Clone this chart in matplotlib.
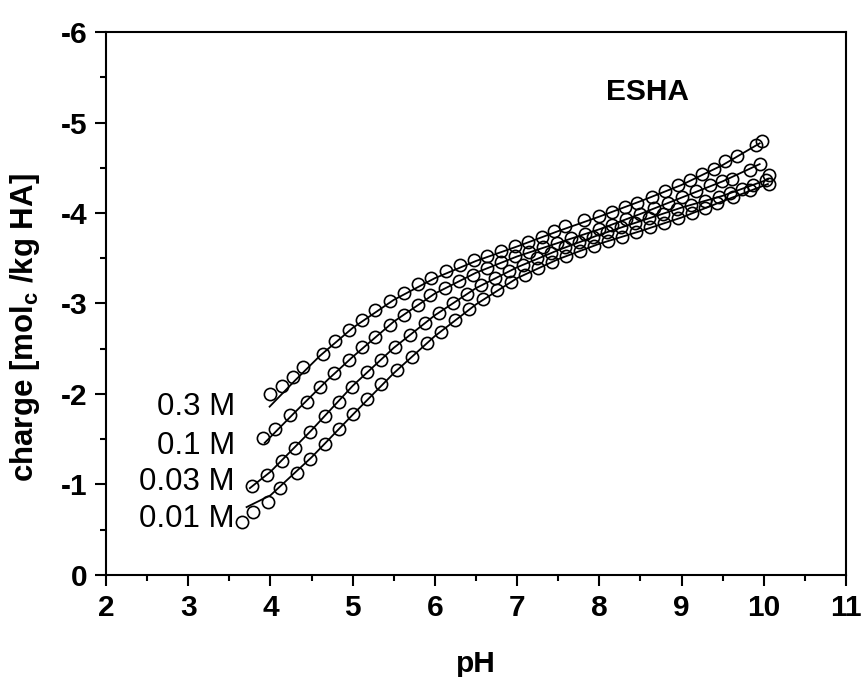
import matplotlib
matplotlib.use("Agg")
import matplotlib.pyplot as plt
import numpy as np

plt.rcParams['font.family'] = ['Liberation Sans', 'DejaVu Sans']
plt.rcParams['axes.unicode_minus'] = False
plt.rcParams['mathtext.fontset'] = 'custom'
plt.rcParams['mathtext.rm'] = 'Liberation Sans'
plt.rcParams['mathtext.bf'] = 'Liberation Sans:bold'

# ---- data: measured points ----
ph_03 = [4.00, 4.14, 4.27, 4.40, 4.64, 4.78, 4.95, 5.11, 5.27, 5.45, 5.62, 5.80, 5.95,
         6.13, 6.30, 6.47, 6.64, 6.80, 6.97, 7.13, 7.30, 7.45, 7.58, 7.81, 7.99, 8.15,
         8.31, 8.46, 8.64, 8.80, 8.96, 9.10, 9.25, 9.40, 9.53, 9.67, 9.90, 9.98]
q_03 = [-2.00, -2.09, -2.19, -2.30, -2.44, -2.59, -2.71, -2.82, -2.93, -3.03, -3.12, -3.21, -3.28,
        -3.36, -3.42, -3.48, -3.53, -3.58, -3.63, -3.68, -3.74, -3.80, -3.86, -3.92, -3.97, -4.01,
        -4.07, -4.11, -4.18, -4.24, -4.31, -4.36, -4.43, -4.49, -4.57, -4.63, -4.75, -4.80]

ph_01 = [3.91, 4.06, 4.24, 4.44, 4.60, 4.77, 4.95, 5.11, 5.27, 5.45, 5.62, 5.80, 5.94,
         6.12, 6.29, 6.46, 6.63, 6.80, 6.97, 7.14, 7.31, 7.48, 7.65, 7.82, 7.99, 8.16,
         8.33, 8.50, 8.67, 8.84, 9.01, 9.18, 9.35, 9.49, 9.61, 9.83, 9.95]
q_01 = [-1.51, -1.61, -1.77, -1.91, -2.08, -2.23, -2.38, -2.52, -2.63, -2.76, -2.87, -2.98, -3.09,
        -3.17, -3.25, -3.32, -3.39, -3.46, -3.52, -3.57, -3.62, -3.67, -3.72, -3.77, -3.82, -3.87,
        -3.93, -3.99, -4.05, -4.11, -4.18, -4.24, -4.31, -4.35, -4.38, -4.48, -4.54]

ph_003 = [3.77, 3.96, 4.14, 4.30, 4.48, 4.66, 4.83, 4.99, 5.17, 5.35, 5.51, 5.70, 5.88,
          6.05, 6.22, 6.39, 6.56, 6.73, 6.90, 7.07, 7.24, 7.41, 7.58, 7.75, 7.92, 8.09,
          8.26, 8.43, 8.60, 8.77, 8.94, 9.11, 9.28, 9.45, 9.59, 9.73, 9.87, 10.03, 10.06]
q_003 = [-0.98, -1.10, -1.26, -1.40, -1.58, -1.76, -1.91, -2.08, -2.24, -2.38, -2.52, -2.65, -2.78,
         -2.90, -3.01, -3.11, -3.20, -3.28, -3.36, -3.43, -3.50, -3.56, -3.62, -3.68, -3.74, -3.79,
         -3.84, -3.89, -3.94, -3.99, -4.04, -4.09, -4.13, -4.18, -4.22, -4.27, -4.31, -4.36, -4.42]

ph_001 = [3.65, 3.79, 3.97, 4.12, 4.32, 4.48, 4.66, 4.83, 5.01, 5.18, 5.35, 5.54, 5.72,
          5.90, 6.07, 6.24, 6.41, 6.58, 6.75, 6.92, 7.09, 7.26, 7.43, 7.60, 7.77, 7.94,
          8.11, 8.28, 8.45, 8.62, 8.79, 8.96, 9.13, 9.29, 9.43, 9.63, 9.83, 10.06]
q_001 = [-0.59, -0.70, -0.81, -0.96, -1.13, -1.28, -1.45, -1.61, -1.78, -1.95, -2.11, -2.27, -2.41,
         -2.56, -2.69, -2.82, -2.94, -3.05, -3.15, -3.24, -3.32, -3.39, -3.46, -3.52, -3.58, -3.64,
         -3.69, -3.74, -3.79, -3.84, -3.89, -3.94, -4.00, -4.06, -4.11, -4.18, -4.25, -4.32]

# ---- data: fitted model lines ----
fit_ph_03 = [3.99, 4.30, 4.60, 5.00, 5.50, 6.00, 6.50, 7.00, 7.50, 8.00, 8.50, 9.00, 9.50, 9.95]
fit_q_03 = [-1.86, -2.15, -2.42, -2.73, -3.04, -3.28, -3.47, -3.63, -3.80, -3.96, -4.13, -4.31, -4.53, -4.77]

fit_ph_01 = [3.93, 4.30, 4.70, 5.00, 5.50, 6.00, 6.50, 7.00, 7.50, 8.00, 8.50, 9.00, 9.50, 9.95]
fit_q_01 = [-1.46, -1.80, -2.16, -2.41, -2.80, -3.11, -3.34, -3.52, -3.67, -3.82, -3.99, -4.17, -4.35, -4.54]

fit_ph_003 = [3.75, 4.00, 4.50, 5.00, 5.50, 6.00, 6.50, 7.00, 7.50, 8.00, 8.50, 9.00, 9.50, 10.05]
fit_q_003 = [-0.96, -1.14, -1.60, -2.09, -2.51, -2.87, -3.17, -3.40, -3.59, -3.76, -3.91, -4.06, -4.19, -4.37]

fit_ph_001 = [3.71, 4.00, 4.50, 5.00, 5.50, 6.00, 6.50, 7.00, 7.50, 8.00, 8.50, 9.00, 9.50, 10.05]
fit_q_001 = [-0.75, -0.88, -1.30, -1.77, -2.23, -2.64, -2.99, -3.28, -3.49, -3.66, -3.80, -3.95, -4.13, -4.32]

labels = ['0.3 M', '0.1 M', '0.03 M', '0.01 M']
label_q = [-1.86, -1.43, -1.03, -0.62]

fig = plt.figure(figsize=(8.63, 6.77), dpi=100)
ax = fig.add_axes([0.1228, 0.1507, 0.8575, 0.802])

for fx, fy in [(fit_ph_03, fit_q_03), (fit_ph_01, fit_q_01), (fit_ph_003, fit_q_003), (fit_ph_001, fit_q_001)]:
    ax.plot(fx, fy, color='black', lw=1.3, zorder=2)
for px, py in [(ph_03, q_03), (ph_01, q_01), (ph_003, q_003), (ph_001, q_001)]:
    ax.plot(px, py, linestyle='none', marker='o', markersize=8.8, markerfacecolor='none',
            markeredgecolor='black', markeredgewidth=1.2, zorder=3)

for lab, yq in zip(labels, label_q):
    ax.text(3.57, yq, lab, ha='right', va='center', fontsize=22.5)
ax.text(8.58, -5.34, 'ESHA', ha='center', va='center', fontsize=21.5, fontweight='bold')

ax.set_xlim(2, 11)
ax.set_ylim(0, -6)
ax.set_xticks(range(2, 12))
ax.set_yticks([0, -1, -2, -3, -4, -5, -6])
ax.set_xticks(np.arange(2.5, 11, 1.0), minor=True)
ax.set_yticks(np.arange(-0.5, -6, -1.0), minor=True)
ax.tick_params(which='major', direction='out', length=8, width=1.5, labelsize=21.5)
ax.tick_params(axis='x', which='major', pad=6)
ax.tick_params(axis='y', which='major', pad=5)
ax.tick_params(which='minor', direction='out', length=4.5, width=1.5)
for lab in ax.get_xticklabels() + ax.get_yticklabels():
    lab.set_fontweight('bold')
for s in ax.spines.values():
    s.set_linewidth(1.5)

ax.set_xlabel('pH', fontsize=21.5, fontweight='bold', labelpad=20)
ax.set_ylabel(r'charge [mol$_\mathbf{c}$ /kg HA]', fontsize=22.5, fontweight='bold')
ax.yaxis.set_label_coords(-0.0865, 0.455)

fig.savefig('out.png', dpi=100)
